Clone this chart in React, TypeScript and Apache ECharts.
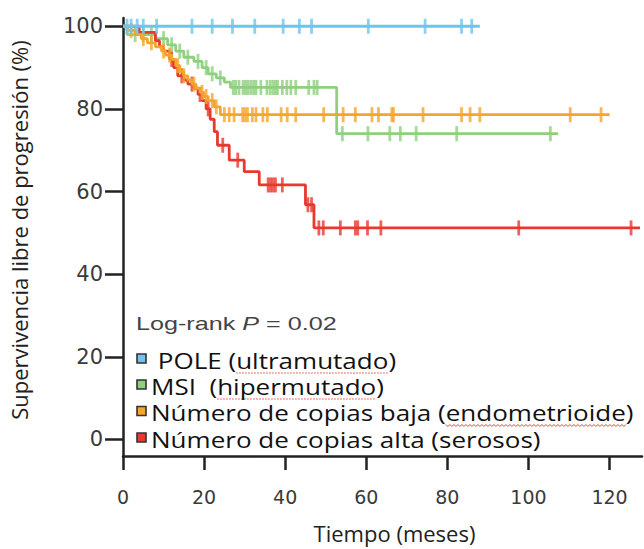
import React, { useEffect, useRef } from 'react';
import * as echarts from 'echarts';

// ---- Data ----
const X_TICKS = [0, 20, 40, 60, 80, 100, 120];
const Y_TICKS = [0, 20, 40, 60, 80, 100];

const GROUP_NAMES = [
  ' POLE (ultramutado)',
  'MSI  (hipermutado)',
  'Número de copias baja (endometrioide)',
  'Número de copias alta (serosos)',
];
// words flagged by the spell-checker in the reference screenshot
const FLAGGED = ['ultramutado', 'hipermutado', 'endometrioide', ''];

// Kaplan–Meier steps: [month, survival %]
const POLE_STEPS = [[0, 100]];
const POLE_END = 88;
const POLE_CENSOR = [1, 2, 3.5, 5, 8.3, 17, 22, 27, 32.5, 39.5, 43.5, 46.5, 60.5, 74.5, 83.5, 86];

const MSI_STEPS = [
  [0, 100], [1, 98], [8, 97], [11, 95.5], [13, 94], [15, 92.5], [17.5, 91.5], [19.5, 90],
  [21, 88.5], [23, 87.5], [25, 86.5], [26.5, 85.2], [52.7, 74],
];
const MSI_END = 107.3;
const MSI_CENSOR = [
  3, 5, 7, 10, 12, 14, 16, 18.5, 20.5, 22, 24, 27.2, 27.8, 28.6, 29.6, 30.2, 30.8, 31.5, 32.2,
  32.8, 34, 35.5, 36.3, 37, 37.6, 38.1, 39.3, 40.4, 41.4, 42.6, 45.8, 47.1, 47.9, 54.1, 60.4,
  65.8, 68.4, 72.3, 82.3, 105.4,
];

const LOW_STEPS = [
  [0, 100], [1, 99], [3, 98], [4.5, 97], [6, 96], [8, 95], [9.5, 94], [10.5, 93], [12, 92],
  [13, 90.5], [14, 89], [15, 88], [16, 87], [17, 86], [18, 85], [19, 84], [20, 83], [21, 82],
  [22.5, 80.5], [24, 78.6],
];
const LOW_END = 120;
const LOW_CENSOR = [
  2, 5, 7, 10, 11.5, 13.5, 15, 17.5, 19.5, 20.5, 22, 23, 25, 26.2, 27.4, 29.5, 30.1, 30.7,
  31.9, 32.8, 34.5, 35.6, 39, 40.5, 42.6, 49.5, 54.3, 57.3, 61.4, 63, 66.3, 66.7, 74, 83.5,
  85.6, 88, 110.3, 117.9,
];

const HIGH_STEPS = [
  [0, 100], [4, 98.5], [8, 96.5], [9, 95], [10, 94], [11.5, 92], [12.5, 90], [13.5, 88],
  [15, 87], [16, 86], [17.5, 85], [18.5, 83.5], [19.5, 82], [20.5, 80], [21.5, 77.5],
  [22.5, 74.5], [23.3, 71.2], [26.2, 67.6], [29.9, 64.8], [33.6, 61.6], [45, 56.8], [47.1, 51.2],
];
const HIGH_END = 127.5;
const HIGH_CENSOR = [
  12, 14.5, 17, 19, 21, 24.6, 28.3, 35.8, 36.4, 37, 37.6, 39.3, 45.6, 46.5, 48.3, 49.4, 53.6,
  57.3, 57.9, 60.3, 63.6, 97.6, 125.3,
];

const COLORS = ['#6DC4ED', '#8FCF7E', '#F4A52E', '#E8392F'];

function survivalAt(steps: number[][], t: number): number {
  let s = steps[0][1];
  for (const [st, sv] of steps) {
    if (st <= t) s = sv;
  }
  return s;
}

function curve(steps: number[][], end: number): number[][] {
  const last = steps[steps.length - 1];
  return [...steps, [end, last[1]]];
}

function censor(steps: number[][], times: number[]): number[][] {
  return times.map((t) => [t, survivalAt(steps, t)]);
}

const GROUPS = [
  { steps: POLE_STEPS, end: POLE_END, cens: POLE_CENSOR },
  { steps: MSI_STEPS, end: MSI_END, cens: MSI_CENSOR },
  { steps: LOW_STEPS, end: LOW_END, cens: LOW_CENSOR },
  { steps: HIGH_STEPS, end: HIGH_END, cens: HIGH_CENSOR },
];

const Z_ORDER = [6, 2, 4, 3];

const LEG_FONT = 'Open Sans';
const LEG_SIZE = 21;
const LEG_SCALE = 1.24;

function measure(text: string): number {
  const c = document.createElement('canvas').getContext('2d');
  if (!c) return text.length * LEG_SIZE * 0.55;
  c.font = `${LEG_SIZE}px "${LEG_FONT}"`;
  return c.measureText(text).width;
}

export default function App() {
  const ref = useRef<HTMLDivElement>(null);

  useEffect(() => {
    if (!ref.current) return;
    const chart = echarts.init(ref.current, null, { renderer: 'svg' });

    const series: any[] = [];
    GROUPS.forEach((g, i) => {
      series.push({
        type: 'line',
        name: GROUP_NAMES[i],
        step: 'end',
        data: curve(g.steps, g.end),
        showSymbol: false,
        symbol: 'none',
        color: COLORS[i],
        itemStyle: { color: COLORS[i] },
        lineStyle: { color: COLORS[i], width: 2.8 },
        z: Z_ORDER[i],
        silent: true,
      });
      series.push({
        type: 'scatter',
        name: GROUP_NAMES[i],
        data: censor(g.steps, g.cens),
        symbol: 'rect',
        symbolSize: [2.8, 15],
        itemStyle: { color: COLORS[i] },
        z: Z_ORDER[i],
        silent: true,
      });
    });

    // legend drawn as graphic (horizontally stretched text like the reference)
    const LEG_X = 137;
    const ROW_Y = [361, 387, 413.5, 440];
    const TEXT_X = 151;
    const legendEls: any[] = [];
    GROUP_NAMES.forEach((name, i) => {
      const cy = ROW_Y[i];
      legendEls.push({
        type: 'rect',
        shape: { x: LEG_X, y: cy - 7, width: 9, height: 9 },
        style: { fill: COLORS[i], stroke: '#333', lineWidth: 1.6 },
        z: 100,
      });
      legendEls.push({
        type: 'text',
        x: TEXT_X,
        y: cy,
        scaleX: LEG_SCALE,
        style: {
          text: name,
          fontFamily: LEG_FONT,
          fontSize: LEG_SIZE,
          fill: '#111',
          verticalAlign: 'middle',
          align: 'left',
        },
        z: 100,
      });
      const word = FLAGGED[i];
      if (word) {
        const idx = name.indexOf(word);
        const x0 = TEXT_X + measure(name.slice(0, idx)) * LEG_SCALE;
        const x1 = x0 + measure(word) * LEG_SCALE;
        const uy = cy + 12;
        if (i === 2) {
          const pts: number[][] = [];
          let k = 0;
          for (let x = x0; x <= x1; x += 2) {
            pts.push([x, uy + (k % 2 === 0 ? -1 : 1)]);
            k++;
          }
          legendEls.push({
            type: 'polyline',
            shape: { points: pts },
            style: { stroke: '#E8413A', lineWidth: 1, fill: null },
            z: 99,
          });
        } else {
          legendEls.push({
            type: 'line',
            shape: { x1: x0, y1: uy, x2: x1, y2: uy },
            style: { stroke: '#E8413A', lineWidth: 1.2, lineDash: [1.5, 1.5] },
            z: 99,
          });
        }
      }
    });

    const axisColor = '#222';
    const tickFont = { fontFamily: 'DejaVu Sans', color: '#3a3a3a' };

    chart.setOption({
      animation: false,
      backgroundColor: '#ffffff',
      grid: { left: 121, right: 2, top: 18, bottom: 89, containLabel: false },
      xAxis: {
        type: 'value',
        min: 0,
        max: 128,
        name: 'Tiempo (meses)',
        nameLocation: 'middle',
        nameGap: 66,
        nameTextStyle: {
          fontFamily: 'Open Sans',
          fontSize: 22,
          color: '#222',
          padding: [0, 0, 0, 24],
        },
        axisLine: { show: true, onZero: false, lineStyle: { color: axisColor, width: 2.5 } },
        axisTick: {
          show: true,
          length: 14,
          customValues: X_TICKS,
          lineStyle: { color: axisColor, width: 2.5 },
        },
        axisLabel: {
          customValues: X_TICKS,
          margin: 31,
          fontSize: 19,
          ...tickFont,
        },
        splitLine: { show: false },
      },
      yAxis: {
        type: 'value',
        min: -4,
        max: 102,
        name: 'Supervivencia libre de progresión (%)',
        nameLocation: 'middle',
        nameGap: 93,
        nameRotate: 90,
        nameTextStyle: {
          fontFamily: 'Open Sans',
          fontSize: 22,
          color: '#222',
          padding: [0, 0, 0, 14],
        },
        axisLine: { show: true, onZero: false, lineStyle: { color: axisColor, width: 2.5 } },
        axisTick: {
          show: true,
          length: 18,
          customValues: Y_TICKS,
          lineStyle: { color: axisColor, width: 2.5 },
        },
        axisLabel: {
          customValues: Y_TICKS,
          margin: 20,
          fontSize: 21,
          ...tickFont,
        },
        splitLine: { show: false },
      },
      graphic: [
        {
          type: 'text',
          left: 136,
          top: 314,
          scaleX: 1.36,
          style: {
            text: '{a|Log-rank }{b|P}{a| = 0.02}',
            rich: {
              a: { fontFamily: 'Liberation Sans', fontSize: 18.5, fill: '#444' },
              b: { fontFamily: 'Liberation Sans', fontSize: 18.5, fontStyle: 'italic', fill: '#444' },
            },
          },
        },
        ...legendEls,
      ],
      series,
    });

    return () => chart.dispose();
  }, []);

  return (
    <div
      ref={ref}
      style={{ position: 'absolute', left: 0, top: 0, width: 644, height: 549, background: '#fff' }}
    />
  );
}
